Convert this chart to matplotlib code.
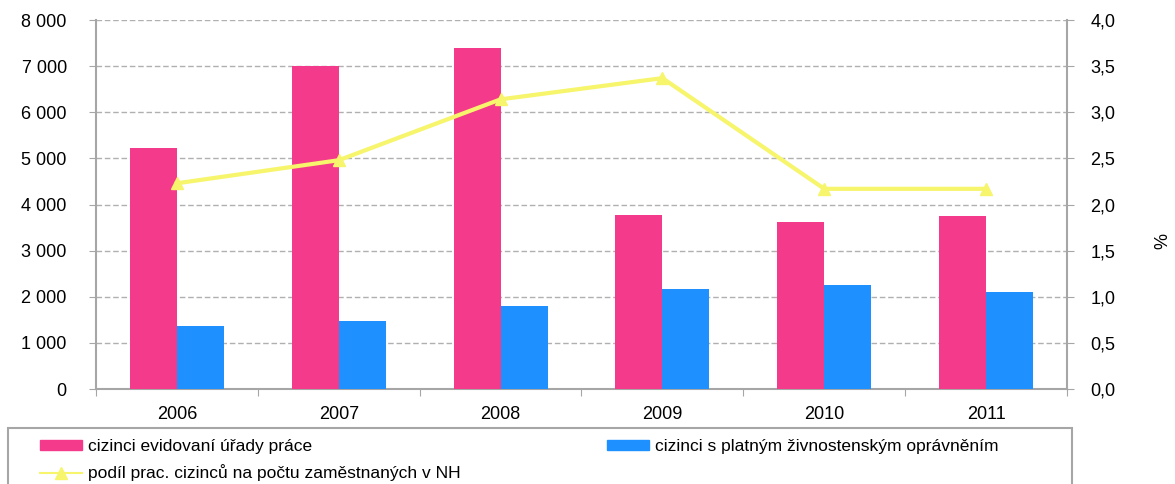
import numpy as np
import matplotlib.pyplot as plt
from matplotlib.patches import Rectangle
from matplotlib.lines import Line2D

plt.rcParams['font.family'] = ['Liberation Sans', 'DejaVu Sans']

# data
years = ['2006', '2007', '2008', '2009', '2010', '2011']
evidovani = [5220, 7010, 7390, 3770, 3630, 3750]
zivnostenske = [1370, 1470, 1800, 2170, 2250, 2100]
podil = [2.23, 2.48, 3.14, 3.37, 2.17, 2.17]

pink = '#F43A8A'
blue = '#1E90FF'
yellow = '#F6F56C'
gray = '#A6A6A6'
fs = 13

fig = plt.figure(figsize=(11.75, 4.84), dpi=100)
ax = fig.add_axes([96 / 1175, 1 - 389 / 484, (1067 - 96) / 1175, (389 - 20) / 484])

x = np.arange(len(years))
w = 0.29
ax.bar(x - w / 2, evidovani, w, color=pink, zorder=3)
ax.bar(x + w / 2, zivnostenske, w, color=blue, zorder=3)

ax.set_xlim(-0.5, len(years) - 0.5)
ax.set_ylim(0, 8000)
ax.set_yticks(np.arange(0, 8001, 1000))
ax.set_yticklabels([f'{v:,}'.replace(',', ' ') for v in range(0, 8001, 1000)], fontsize=fs)
ax.yaxis.grid(True, color='#B0B0B0', linestyle=(0, (4, 2)), linewidth=1, zorder=0)

# category labels in the centre, ticks on the boundaries
ax.set_xticks(np.arange(-0.5, len(years), 1))
ax.set_xticklabels([])
ax.set_xticks(x, minor=True)
ax.set_xticklabels(years, minor=True, fontsize=fs)
ax.tick_params(axis='x', which='minor', length=0, pad=12)
ax.tick_params(axis='x', which='major', length=5, color=gray)
ax.tick_params(axis='y', length=5, color=gray, pad=16)

for s in ['top', 'right']:
    ax.spines[s].set_visible(False)
for s in ['left', 'bottom']:
    ax.spines[s].set_color(gray)
    ax.spines[s].set_linewidth(1.5)

ax2 = ax.twinx()
ax2.plot(x, podil, color=yellow, linewidth=3, marker='^', markersize=9, zorder=4)
ax2.set_ylim(0, 4)
ax2.set_yticks(np.arange(0, 4.01, 0.5))
ax2.set_yticklabels([f'{v:.1f}'.replace('.', ',') for v in np.arange(0, 4.01, 0.5)], fontsize=fs)
ax2.tick_params(axis='y', length=5, color=gray, pad=12)
ax2.set_ylabel('%', fontsize=fs)
ax2.yaxis.set_label_coords(1.09, 0.40)
for s in ['top', 'left', 'bottom']:
    ax2.spines[s].set_visible(False)
ax2.spines['right'].set_color(gray)
ax2.spines['right'].set_linewidth(1.5)

# legend frame runs off the bottom of the picture
fig.patches.append(Rectangle((8 / 1175, -0.1), (1072 - 8) / 1175, 0.1 + 1 - 428 / 484,
                             transform=fig.transFigure, facecolor='none',
                             edgecolor=gray, linewidth=1.5))

h_ev = Rectangle((0, 0), 1, 1, color=pink)
h_zi = Rectangle((0, 0), 1, 1, color=blue)
h_po = Line2D([], [], color=yellow, linewidth=1.5, marker='^', markersize=9)

fig.legend([h_ev, h_po],
           ['cizinci evidovaní úřady práce',
            'podíl prac. cizinců na počtu zaměstnaných v NH'],
           loc='upper left', bbox_to_anchor=(40 / 1175, 1 - 439 / 484),
           frameon=False, fontsize=12.5, handlelength=2.4, handleheight=0.5,
           handletextpad=0.35, labelspacing=0.6, borderpad=0, borderaxespad=0)
fig.legend([h_zi], ['cizinci s platným živnostenským oprávněním'],
           loc='upper left', bbox_to_anchor=(607 / 1175, 1 - 439 / 484),
           frameon=False, fontsize=12.5, handlelength=2.4, handleheight=0.5,
           handletextpad=0.35, borderpad=0, borderaxespad=0)

fig.savefig('out.png', dpi=100)
